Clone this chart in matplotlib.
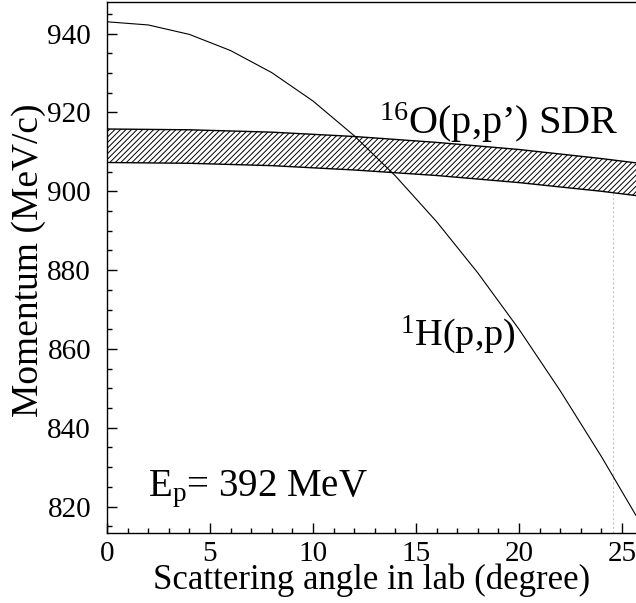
import matplotlib
matplotlib.use("Agg")
import matplotlib.pyplot as plt
from matplotlib.ticker import MultipleLocator

plt.rcParams["font.family"] = ["Liberation Serif", "DejaVu Serif"]
plt.rcParams["mathtext.fontset"] = "custom"
plt.rcParams["mathtext.rm"] = "Liberation Serif"
plt.rcParams["mathtext.it"] = "Liberation Serif:italic"
plt.rcParams["hatch.linewidth"] = 0.7

# 1H(p,p) elastic: scattered proton momentum vs lab angle
h_angle = [0, 2, 4, 6, 8, 10, 12, 14, 16, 18, 20, 22, 24, 26]
h_momentum = [943.0, 942.2, 939.8, 935.7, 930.1, 922.9, 914.1, 903.9,
              892.3, 879.3, 865.0, 849.4, 832.7, 814.9]

# 16O(p,p') SDR band (upper / lower edge)
sdr_angle = [0, 4, 8, 12, 16, 20, 24, 26]
sdr_upper = [915.8, 915.6, 915.0, 913.9, 912.4, 910.6, 908.3, 907.0]
sdr_lower = [907.3, 907.1, 906.5, 905.4, 904.0, 902.2, 900.0, 898.7]

# faint dotted marker line
marker_angle = 24.55
marker_top = 899.8

fig = plt.figure(figsize=(6.36, 6.03), dpi=100)
ax = fig.add_axes([0.1682, 0.1161, 0.8318, 0.8811])

ax.fill_between(sdr_angle, sdr_lower, sdr_upper, facecolor="white",
                edgecolor="black", hatch="//////", linewidth=0, zorder=2)
ax.plot(sdr_angle, sdr_upper, color="black", lw=1.0, zorder=3)
ax.plot(sdr_angle, sdr_lower, color="black", lw=1.0, zorder=3)
ax.plot(h_angle, h_momentum, color="black", lw=0.8, zorder=4)

ax.set_xlim(0, 25.68)
ax.set_ylim(813.3, 948.1)
ax.vlines(marker_angle, 813.3, marker_top, colors="#c8c8c8", lw=0.8,
          linestyles=(0, (2, 2)), zorder=1)

ax.spines["right"].set_visible(False)
for s in ["left", "bottom", "top"]:
    ax.spines[s].set_linewidth(1.0)

ax.xaxis.set_major_locator(MultipleLocator(5))
ax.xaxis.set_minor_locator(MultipleLocator(1))
ax.yaxis.set_major_locator(MultipleLocator(20))
ax.yaxis.set_minor_locator(MultipleLocator(5))
ax.tick_params(which="both", direction="in", labelsize=21, top=False, right=False)
ax.tick_params(which="major", length=7.5, width=1.0)
ax.tick_params(which="minor", length=3.8, width=1.0)
ax.tick_params(axis="y", which="major", pad=11.5)
ax.tick_params(axis="x", which="major", pad=6)

ax.set_xlabel("Scattering angle in lab (degree)", fontsize=25, labelpad=-2.5)
ax.set_ylabel("Momentum (MeV/c)", fontsize=27)
ax.yaxis.set_label_coords(-0.115, 0.514)

ax.text(13.2, 914.5, "$^{16}$O(p,p\u2019) SDR", fontsize=29, va="baseline")
ax.text(14.2, 860.8, "$^{1}$H(p,p)", fontsize=27.5, va="baseline")
ax.text(2.0, 822.6, "E$_{\\rm p}$= 392 MeV", fontsize=28, va="baseline")

fig.savefig("out.png", dpi=100)
